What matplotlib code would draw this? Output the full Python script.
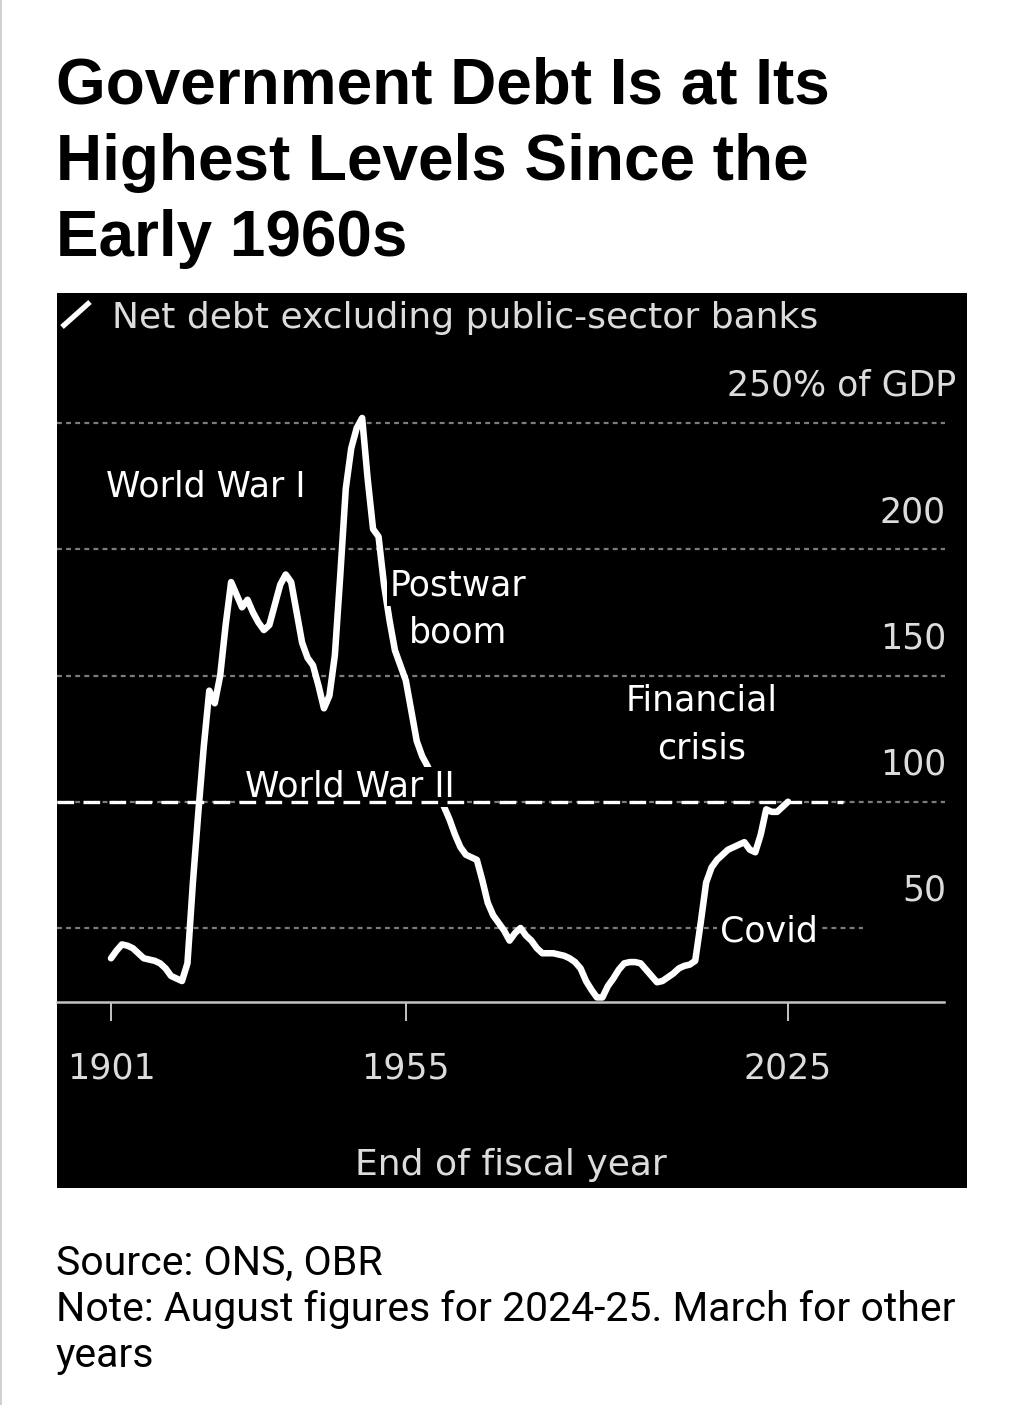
import numpy as np
import matplotlib
matplotlib.use('Agg')
import matplotlib.pyplot as plt
from matplotlib.lines import Line2D
from matplotlib.patches import Rectangle
import matplotlib.transforms as mtransforms

# net public-sector debt excl. public-sector banks, % of GDP
years = np.arange(1901, 2026)
net_debt = [
    38, 41, 43.5, 43, 42, 40, 38, 37.5, 37, 36,            # 1901-1910
    34, 31, 30, 29, 36, 68, 96, 122, 144, 139,             # 1911-1920
    150, 170, 187, 182, 177, 180, 175, 171, 168, 170,      # 1921-1930
    178, 186, 190, 187, 175, 163, 157, 154, 146, 137,      # 1931-1940
    142, 158, 190, 224, 240, 248, 252, 228, 208, 205,      # 1941-1950
    186, 172, 160, 154, 148, 136, 124, 118, 114, 109,      # 1951-1960
    103, 98, 93, 87, 82, 79, 78, 77, 69, 60,               # 1961-1970
    55, 52, 49, 45, 48, 50, 47, 45, 42, 40,                # 1971-1980
    40, 40, 39.5, 39, 38, 36.5, 34, 29, 25.5, 22.5,        # 1981-1990
    22.5, 27, 30, 33.5, 36, 36.5, 36.5, 36, 33.5, 31,      # 1991-2000
    28.5, 29, 30.5, 32, 34, 35, 35.5, 37, 52, 68,          # 2001-2010
    74, 77, 79, 81, 82, 83, 84, 81, 80, 87,                # 2011-2020
    97, 96, 96, 98, 100,                                   # 2021-2025
]

tick_years = [1901, 1955, 2025]
grid_levels = [50, 100, 150, 200, 250]
grid_labels = ['50', '100', '150', '200', '250% of GDP']
current_level = 100

# annotation text, x (year), baseline y (% of GDP), alignment
notes = [
    ('World War I', 1900.1, 220.7, 'left'),
    ('Postwar', 1964.6, 181.5, 'center'),
    ('boom', 1964.6, 162.9, 'center'),
    ('World War II', 1925.5, 101.9, 'left'),
    ('Financial', 2009.1, 136.3, 'center'),
    ('crisis', 2009.1, 117.3, 'center'),
    ('Covid', 2012.5, 44.6, 'left'),
]

W, H = 1024, 1405


def fx(px):
    return px / W


def fy(py):
    return 1 - py / H


fig = plt.figure(figsize=(W / 100, H / 100), dpi=100)
fig.patch.set_facecolor('white')

# black chart panel
fig.patches.append(Rectangle((fx(57), fy(1188)), 910 / W, (1188 - 293) / H,
                             transform=fig.transFigure, facecolor='black',
                             edgecolor='none', zorder=-5))
# thin page border on the left
fig.lines.append(Line2D([fx(0.8), fx(0.8)], [0, 1], transform=fig.transFigure,
                        color='#c8c8c8', lw=1.2))

'''title'''
title_lines = ['Government Debt Is at Its', 'Highest Levels Since the', 'Early 1960s']
for i, t in enumerate(title_lines):
    fig.text(fx(56), fy(104 + i * 76), t, fontsize=46, fontweight='bold',
             family='Liberation Sans', color='black', va='baseline', ha='left')

'''axes'''
ax = fig.add_axes([fx(57), fy(1002), 910 / W, (1002 - 293) / H])
ax.set_facecolor('black')
x_lo = 1901 + (57 - 111) / 5.46
x_hi = 1901 + (967 - 111) / 5.46
y_lo = (1054.25 - 1002) / 2.525
y_hi = (1054.25 - 293) / 2.525
ax.set_xlim(x_lo, x_hi)
ax.set_ylim(y_lo, y_hi)
for s in ax.spines.values():
    s.set_visible(False)

fs = 25
font = dict(family='DejaVu Sans')

# gridlines
grid_end = [0.886, 0.976, 0.976, 0.976, 0.976]
for lvl, xe in zip(grid_levels, grid_end):
    ax.axhline(lvl, xmin=0, xmax=xe, color='#7c7c7c', lw=1.6, dashes=(2.2, 1.9), zorder=1)

# current level reference (sits over the label boxes, like the original)
ax.axhline(current_level, xmin=0, xmax=(843 - 57) / 910, color='white', lw=2.4,
           dashes=(5, 2.8), zorder=7)

# baseline
ax.axhline(y_lo, xmin=0, xmax=(944 - 57) / 910, color='#c4c4c4', lw=1.8, zorder=2,
           clip_on=False)

ax.plot(years, net_debt, color='white', lw=4.7, solid_joinstyle='round',
        solid_capstyle='round', zorder=4)

# right-hand labels
trans = mtransforms.blended_transform_factory(ax.transAxes, ax.transData)
for lvl, lab in zip(grid_levels, grid_labels):
    xr = 0.988 if '%' in lab else 0.977
    ax.text(xr, lvl + 10.7, lab, transform=trans, ha='right', va='baseline',
            fontsize=fs, color='#dcdcdc', zorder=5, **font)

for txt, xv, yv, ha in notes:
    ax.text(xv, yv, txt, ha=ha, va='baseline', fontsize=fs, color='white', zorder=6,
            bbox=dict(boxstyle='square,pad=0.08', facecolor='black', edgecolor='none'),
            **font)

ax.set_yticks([])
ax.set_xticks(tick_years)
ax.set_xticklabels([str(y) for y in tick_years], fontsize=fs, color='#dcdcdc', **font)
ax.tick_params(axis='x', direction='out', length=13.5, width=1.4, color='#c4c4c4', pad=22)

ax.set_xlabel('End of fiscal year', fontsize=26, color='#dcdcdc', **font)
ax.xaxis.set_label_coords((511 - 57) / 910, -(1175 - 1002) / (1002 - 293))
ax.xaxis.label.set_va('baseline')

'''legend'''
fig.lines.append(Line2D([fx(62), fx(90)], [fy(327), fy(302)], transform=fig.transFigure,
                        color='white', lw=3.8, solid_capstyle='butt'))
fig.text(fx(112), fy(328), 'Net debt excluding public-sector banks', fontsize=26,
         color='#dcdcdc', va='baseline', ha='left', **font)

'''source'''
foot = ['Source: ONS, OBR', 'Note: August figures for 2024-25. March for other', 'years']
for i, t in enumerate(foot):
    fig.text(fx(56), fy(1275 + i * 46), t, fontsize=29.5, family='Roboto',
             color='black', va='baseline', ha='left')

fig.savefig('out.png', dpi=100, facecolor='white')
plt.close()
